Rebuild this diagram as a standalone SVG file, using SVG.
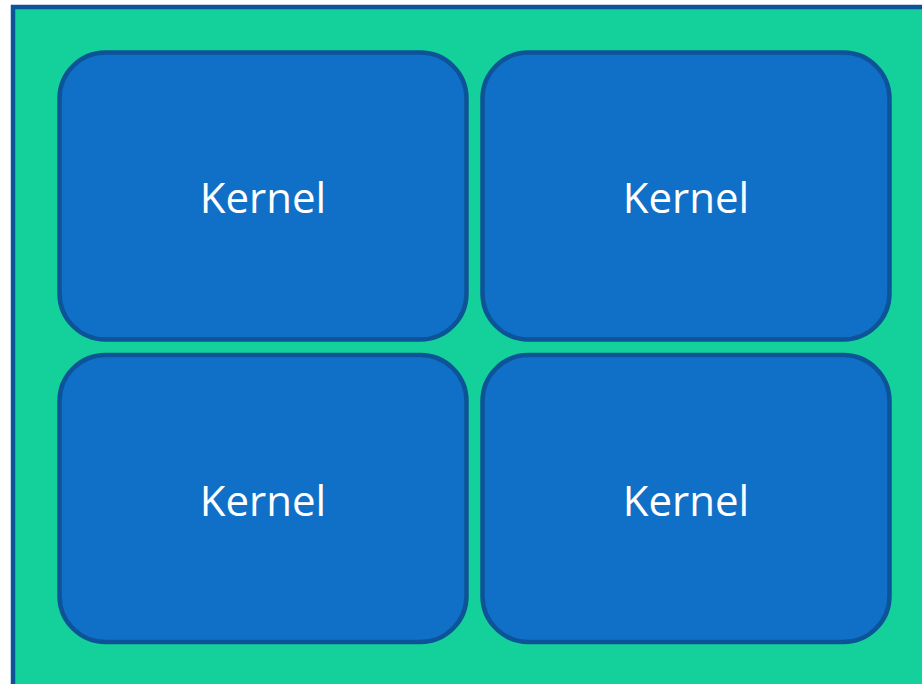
<svg xmlns="http://www.w3.org/2000/svg" width="922" height="684" viewBox="0 0 922 684">
<style>
.k{fill:#106FC6;stroke:#0C5497;stroke-width:4.5}
.t{font-family:"Open Sans","Liberation Sans",sans-serif;font-size:42px;fill:#FFFFFF;text-anchor:middle}
</style>
<rect width="922" height="684" fill="#FFFFFF"/>
<g id="container">
<rect x="13" y="7" width="920" height="690" fill="#14D09B" stroke="#0C5497" stroke-width="4.5"/>
</g>
<g id="connectors"></g>
<g id="kernel1"><rect class="k" x="59.5" y="52.5" width="407" height="287" rx="46"/><text class="t" x="263" y="213">Kernel</text></g>
<g id="kernel2"><rect class="k" x="482.5" y="52.5" width="407" height="287" rx="46"/><text class="t" x="686" y="213">Kernel</text></g>
<g id="kernel3"><rect class="k" x="59.5" y="355" width="407" height="287" rx="46"/><text class="t" x="263" y="516">Kernel</text></g>
<g id="kernel4"><rect class="k" x="482.5" y="355" width="407" height="287" rx="46"/><text class="t" x="686" y="516">Kernel</text></g>
</svg>
